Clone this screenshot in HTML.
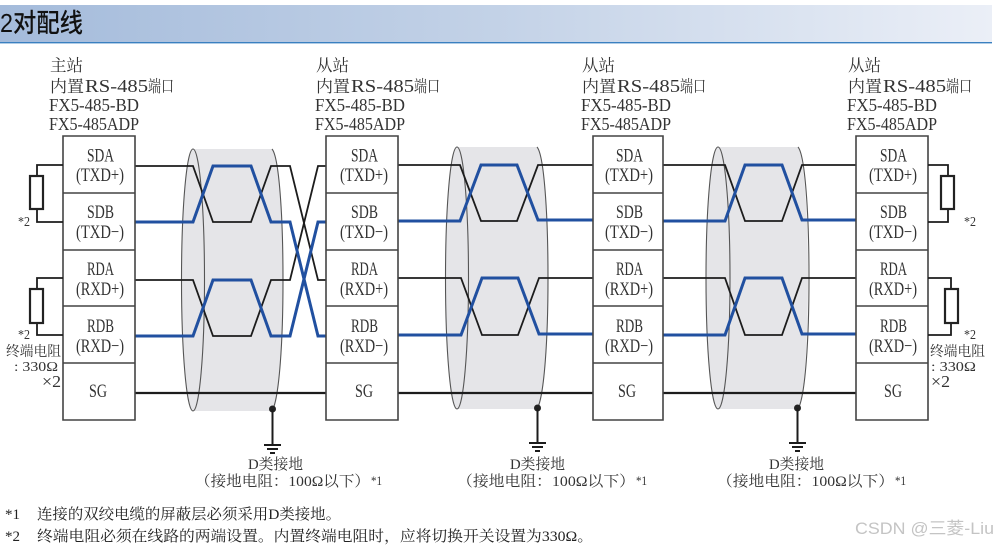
<!DOCTYPE html>
<html><head><meta charset="utf-8"><style>
html,body{margin:0;padding:0;background:#fff}
svg{display:block}
text{font-family:"Liberation Serif","Noto Serif CJK SC",serif;fill:#333}
.k{fill:none;stroke:#1c1c1c;stroke-width:1.8}
.b{fill:none;stroke:#2150a0;stroke-width:3}
.e{fill:none;stroke:#555;stroke-width:1.1}
.r{fill:#fff;stroke:#222;stroke-width:2.2}
.w{fill:none;stroke:#1c1c1c;stroke-width:1.8}
.box{fill:#fff;stroke:#444;stroke-width:1.6}
</style></head><body>
<svg width="997" height="547" viewBox="0 0 997 547" xmlns="http://www.w3.org/2000/svg">
<defs><linearGradient id="g" x1="0" x2="1" y1="0" y2="0"><stop offset="0" stop-color="#a4bbdb"/><stop offset="0.5" stop-color="#c3d2e7"/><stop offset="1" stop-color="#ebeff7"/></linearGradient></defs>
<rect x="0" y="5" width="992" height="37" fill="url(#g)"/>
<rect x="0" y="42" width="992" height="1.4" fill="#3a80c0"/>
<text x="0" y="32" font-size="26" textLength="83" lengthAdjust="spacingAndGlyphs" style="font-family:'Liberation Sans','Noto Sans CJK SC',sans-serif;fill:#111;font-weight:500">2对配线</text>

<!-- cable shading -->
<g fill="#e5e5e8">
<ellipse cx="193" cy="280" rx="11.5" ry="131"/><rect x="193" y="149" width="79" height="262"/><ellipse cx="272" cy="280" rx="11" ry="131"/>
<ellipse cx="457" cy="278" rx="11.5" ry="131"/><rect x="457" y="147" width="80" height="262"/><ellipse cx="537" cy="278" rx="11" ry="131"/>
<ellipse cx="718" cy="278" rx="12" ry="131"/><rect x="718" y="147" width="80" height="262"/><ellipse cx="797" cy="278" rx="11" ry="131"/>
</g>
<!-- cable outlines -->
<ellipse class="e" cx="193" cy="280" rx="11.5" ry="131"/>
<path class="e" d="M272 149C279 157 283 215 283 280C283 345 279 395 273 409"/>
<ellipse class="e" cx="457" cy="278" rx="11.5" ry="131"/>
<path class="e" d="M537 147C544 155 548 213 548 278C548 343 544 393 538 407"/>
<ellipse class="e" cx="718" cy="278" rx="12" ry="131"/>
<path class="e" d="M798 147C805 155 809 213 809 278C809 343 805 393 799 407"/>

<!-- wires black -->
<path class="k" d="M135 166H193L213 222H251L271 166H290L318 280H326"/>
<path class="k" d="M135 280H193L213 336H251L271 280H290L318 166H326"/>
<path class="k" d="M398 165H460L481 221H517L538 165H593"/>
<path class="k" d="M398 278H461L482 335H518L539 278H593"/>
<path class="k" d="M663 165H725L745 221H782L802 165H856"/>
<path class="k" d="M663 278H725L745 335H782L802 278H856"/>
<path class="w" style="stroke-width:2.2" d="M135 393H326M398 393H593M663 393H856"/>
<!-- wires blue -->
<path class="b" d="M135 222H193L213 166H251L271 222H290L318 336H326"/>
<path class="b" d="M135 336H193L213 280H251L271 336H290L318 222H326"/>
<path class="b" d="M398 221H460L481 165H517L538 220H593"/>
<path class="b" d="M398 335H461L482 278H518L539 334H593"/>
<path class="b" d="M663 221H725L745 165H782L802 220H856"/>
<path class="b" d="M663 335H725L745 278H782L802 334H856"/>

<!-- boxes -->
<g class="box">
<path d="M63 136H135V420H63ZM63 193H135M63 250H135M63 306H135M63 363H135"/>
<path d="M326 136H398V420H326ZM326 193H398M326 250H398M326 306H398M326 363H398"/>
<path d="M593 136H663V420H593ZM593 193H663M593 250H663M593 306H663M593 363H663"/>
<path d="M856 136H928V420H856ZM856 193H928M856 250H928M856 306H928M856 363H928"/>
</g>

<!-- resistors -->
<path class="w" d="M63 165H37V222H63M63 278H37V335H63M928 165H948V222H928M928 278H951V335H928"/>
<rect class="r" x="30" y="176" width="13" height="33"/>
<rect class="r" x="30" y="289" width="13" height="34"/>
<rect class="r" x="941" y="176" width="13" height="33"/>
<rect class="r" x="945" y="289" width="13" height="34"/>

<!-- grounds -->
<g>
<circle cx="272.500" cy="409" r="3.500" fill="#222"/><path class="w" style="stroke-width:2" d="M272.500 409V445M264 445H281M267 449H278M270 453H275"/>
<circle cx="537.500" cy="408" r="3.500" fill="#222"/><path class="w" style="stroke-width:2" d="M537.500 408V443M529 443H546M532 447H543M535 451H540"/>
<circle cx="797.500" cy="408" r="3.500" fill="#222"/><path class="w" style="stroke-width:2" d="M797.500 408V443M789 443H806M792 447H803M795 451H800"/>
</g>

<!-- station heads -->
<g font-size="16.500">
<text x="50" y="71">主站</text>
<text x="50" y="92" textLength="34" lengthAdjust="spacingAndGlyphs">内置</text><text x="85" y="92" font-size="18" textLength="63" lengthAdjust="spacingAndGlyphs">RS-485</text><text x="148" y="92" textLength="26" lengthAdjust="spacingAndGlyphs">端口</text>
<text x="49" y="111" font-size="18" textLength="90" lengthAdjust="spacingAndGlyphs">FX5-485-BD</text>
<text x="49" y="130" font-size="18" textLength="90" lengthAdjust="spacingAndGlyphs">FX5-485ADP</text>

<text x="316" y="71">从站</text>
<text x="316" y="92" textLength="34" lengthAdjust="spacingAndGlyphs">内置</text><text x="351" y="92" font-size="18" textLength="63" lengthAdjust="spacingAndGlyphs">RS-485</text><text x="414" y="92" textLength="26" lengthAdjust="spacingAndGlyphs">端口</text>
<text x="315" y="111" font-size="18" textLength="90" lengthAdjust="spacingAndGlyphs">FX5-485-BD</text>
<text x="315" y="130" font-size="18" textLength="90" lengthAdjust="spacingAndGlyphs">FX5-485ADP</text>

<text x="582" y="71">从站</text>
<text x="582" y="92" textLength="34" lengthAdjust="spacingAndGlyphs">内置</text><text x="617" y="92" font-size="18" textLength="63" lengthAdjust="spacingAndGlyphs">RS-485</text><text x="680" y="92" textLength="26" lengthAdjust="spacingAndGlyphs">端口</text>
<text x="581" y="111" font-size="18" textLength="90" lengthAdjust="spacingAndGlyphs">FX5-485-BD</text>
<text x="581" y="130" font-size="18" textLength="90" lengthAdjust="spacingAndGlyphs">FX5-485ADP</text>

<text x="848" y="71">从站</text>
<text x="848" y="92" textLength="34" lengthAdjust="spacingAndGlyphs">内置</text><text x="883" y="92" font-size="18" textLength="63" lengthAdjust="spacingAndGlyphs">RS-485</text><text x="946" y="92" textLength="26" lengthAdjust="spacingAndGlyphs">端口</text>
<text x="847" y="111" font-size="18" textLength="90" lengthAdjust="spacingAndGlyphs">FX5-485-BD</text>
<text x="847" y="130" font-size="18" textLength="90" lengthAdjust="spacingAndGlyphs">FX5-485ADP</text>
</g>

<!-- box labels -->
<g font-size="19">
<text x="87" y="161.500" textLength="27" lengthAdjust="spacingAndGlyphs">SDA</text><text x="76" y="181" textLength="48" lengthAdjust="spacingAndGlyphs">(TXD+)</text>
<text x="87" y="218" textLength="27" lengthAdjust="spacingAndGlyphs">SDB</text><text x="76" y="238" textLength="48" lengthAdjust="spacingAndGlyphs">(TXD−)</text>
<text x="87" y="275" textLength="27" lengthAdjust="spacingAndGlyphs">RDA</text><text x="76" y="295" textLength="48" lengthAdjust="spacingAndGlyphs">(RXD+)</text>
<text x="87" y="332" textLength="27" lengthAdjust="spacingAndGlyphs">RDB</text><text x="76" y="352" textLength="48" lengthAdjust="spacingAndGlyphs">(RXD−)</text>
<text x="89" y="397" textLength="18" lengthAdjust="spacingAndGlyphs">SG</text>

<text x="351" y="161.500" textLength="27" lengthAdjust="spacingAndGlyphs">SDA</text><text x="340" y="181" textLength="48" lengthAdjust="spacingAndGlyphs">(TXD+)</text>
<text x="351" y="218" textLength="27" lengthAdjust="spacingAndGlyphs">SDB</text><text x="340" y="238" textLength="48" lengthAdjust="spacingAndGlyphs">(TXD−)</text>
<text x="351" y="275" textLength="27" lengthAdjust="spacingAndGlyphs">RDA</text><text x="340" y="295" textLength="48" lengthAdjust="spacingAndGlyphs">(RXD+)</text>
<text x="351" y="332" textLength="27" lengthAdjust="spacingAndGlyphs">RDB</text><text x="340" y="352" textLength="48" lengthAdjust="spacingAndGlyphs">(RXD−)</text>
<text x="355" y="397" textLength="18" lengthAdjust="spacingAndGlyphs">SG</text>

<text x="616" y="161.500" textLength="27" lengthAdjust="spacingAndGlyphs">SDA</text><text x="605" y="181" textLength="48" lengthAdjust="spacingAndGlyphs">(TXD+)</text>
<text x="616" y="218" textLength="27" lengthAdjust="spacingAndGlyphs">SDB</text><text x="605" y="238" textLength="48" lengthAdjust="spacingAndGlyphs">(TXD−)</text>
<text x="616" y="275" textLength="27" lengthAdjust="spacingAndGlyphs">RDA</text><text x="605" y="295" textLength="48" lengthAdjust="spacingAndGlyphs">(RXD+)</text>
<text x="616" y="332" textLength="27" lengthAdjust="spacingAndGlyphs">RDB</text><text x="605" y="352" textLength="48" lengthAdjust="spacingAndGlyphs">(RXD−)</text>
<text x="618" y="397" textLength="18" lengthAdjust="spacingAndGlyphs">SG</text>

<text x="880" y="161.500" textLength="27" lengthAdjust="spacingAndGlyphs">SDA</text><text x="869" y="181" textLength="48" lengthAdjust="spacingAndGlyphs">(TXD+)</text>
<text x="880" y="218" textLength="27" lengthAdjust="spacingAndGlyphs">SDB</text><text x="869" y="238" textLength="48" lengthAdjust="spacingAndGlyphs">(TXD−)</text>
<text x="880" y="275" textLength="27" lengthAdjust="spacingAndGlyphs">RDA</text><text x="869" y="295" textLength="48" lengthAdjust="spacingAndGlyphs">(RXD+)</text>
<text x="880" y="332" textLength="27" lengthAdjust="spacingAndGlyphs">RDB</text><text x="869" y="352" textLength="48" lengthAdjust="spacingAndGlyphs">(RXD−)</text>
<text x="884" y="397" textLength="18" lengthAdjust="spacingAndGlyphs">SG</text>
</g>

<!-- side notes -->
<g font-size="14">
<text x="18" y="226" textLength="12" lengthAdjust="spacingAndGlyphs">*2</text><text x="18" y="339" textLength="12" lengthAdjust="spacingAndGlyphs">*2</text>
<text x="964" y="226" textLength="12" lengthAdjust="spacingAndGlyphs">*2</text><text x="964" y="339" textLength="12" lengthAdjust="spacingAndGlyphs">*2</text>
</g>
<g font-size="14">
<text x="6" y="356" textLength="55" lengthAdjust="spacingAndGlyphs">终端电阻</text>
<text x="14" y="371" textLength="44" lengthAdjust="spacingAndGlyphs">: 330Ω</text>
<text x="42" y="387" textLength="19" lengthAdjust="spacingAndGlyphs" font-size="17">×2</text>
<text x="930" y="356" textLength="55" lengthAdjust="spacingAndGlyphs">终端电阻</text>
<text x="931" y="371" textLength="45" lengthAdjust="spacingAndGlyphs">: 330Ω</text>
<text x="931" y="387" textLength="19" lengthAdjust="spacingAndGlyphs" font-size="17">×2</text>
</g>

<!-- ground labels -->
<g font-size="15">
<text x="248" y="469" textLength="55" lengthAdjust="spacingAndGlyphs">D类接地</text>
<text x="195" y="486" textLength="175" lengthAdjust="spacingAndGlyphs">（接地电阻：100Ω以下）</text><text x="371" y="485" font-size="13" textLength="11" lengthAdjust="spacingAndGlyphs">*1</text>
<text x="510" y="469" textLength="55" lengthAdjust="spacingAndGlyphs">D类接地</text>
<text x="457" y="486" textLength="178" lengthAdjust="spacingAndGlyphs">（接地电阻：100Ω以下）</text><text x="636" y="485" font-size="13" textLength="11" lengthAdjust="spacingAndGlyphs">*1</text>
<text x="769" y="469" textLength="55" lengthAdjust="spacingAndGlyphs">D类接地</text>
<text x="717" y="486" textLength="177" lengthAdjust="spacingAndGlyphs">（接地电阻：100Ω以下）</text><text x="895" y="485" font-size="13" textLength="11" lengthAdjust="spacingAndGlyphs">*1</text>
</g>

<!-- footnotes -->
<g font-size="15">
<text x="5" y="519" textLength="15" lengthAdjust="spacingAndGlyphs" style="fill:#222">*1</text>
<text x="37" y="519" textLength="304" lengthAdjust="spacingAndGlyphs" style="fill:#222">连接的双绞电缆的屏蔽层必须采用D类接地。</text>
<text x="5" y="541" textLength="15" lengthAdjust="spacingAndGlyphs" style="fill:#222">*2</text>
<text x="37" y="541" textLength="556" lengthAdjust="spacingAndGlyphs" style="fill:#222">终端电阻必须在线路的两端设置。内置终端电阻时，应将切换开关设置为330Ω。</text>
</g>

<text x="855" y="534" font-size="17" textLength="139" lengthAdjust="spacingAndGlyphs" style="font-family:'Liberation Sans','Noto Sans CJK SC',sans-serif;fill:#c4c4c4">CSDN @三菱-Liu</text>
</svg>
</body></html>
